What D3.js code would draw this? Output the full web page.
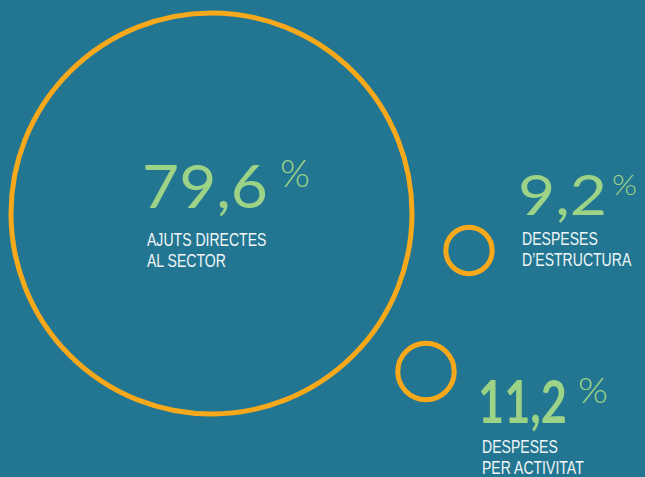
<html>
<head>
<meta charset="utf-8">
<title>Despeses</title>
<style type="text/css">
* { margin: 0; padding: 0; }
body { background: #237691; overflow: hidden; }
text.num { font-family: Lato, "Open Sans", sans-serif; fill: #9dd386; }
text.pct { font-family: Lato, "Open Sans", sans-serif; fill: #9dd386; font-weight: 300; }
text.lbl { font-family: "Liberation Sans", Arial, sans-serif; fill: #f1f6f8; font-size: 19px; }
</style>
<script src="https://cdn.jsdelivr.net/npm/d3@7"></script>
</head>
<body>
<div id="chart"></div>
<script type="text/javascript">
// shares of the budget (%)
var categories = ["AJUTS DIRECTES|AL SECTOR", "DESPESES|D\u2019ESTRUCTURA", "DESPESES|PER ACTIVITAT"];
var values = [79.6, 9.2, 11.2];
var valueLabels = ["79,6", "9,2", "11,2"];

// where each bubble and its text sit (tw = width of the number, pw = width of the %)
var layout = [
  { cx: 211.5, cy: 213.5, tx: 142, ty: 208, size: 60, weight: 400, tw: 126, px: 280, py: 187, psize: 37, pw: 30, lx: 147, ly: 246 },
  { cx: 469, cy: 250.5, tx: 518, ty: 215, size: 56, weight: 400, tw: 89, px: 612, py: 195, psize: 27, pw: 25, lx: 522, ly: 245 },
  { cx: 426, cy: 371.5, tx: 478, ty: 423, size: 60, weight: 700, tw: 89, px: 578, py: 403, psize: 35, pw: 30, lx: 482, ly: 453 }
];

var width = 645, height = 477;
var squeeze = 0.74; // condensed look for the labels

var svg = d3.select("#chart").append("svg")
  .attr("width", width)
  .attr("height", height);

var r = d3.scaleLinear().domain([0, 79.6]).range([0, 200.5]);

var items = values.map(function(v, i) {
  return { value: v, label: valueLabels[i], cat: categories[i].split("|"), pos: layout[i] };
});

svg.selectAll("circle.bubble")
  .data(items)
  .enter().append("circle")
  .attr("class", "bubble")
  .attr("cx", function(d) { return d.pos.cx; })
  .attr("cy", function(d) { return d.pos.cy; })
  .attr("r", function(d) { return r(d.value); })
  .attr("fill", "none")
  .attr("stroke", "#f7a81b")
  .attr("stroke-width", 5);

var g = svg.selectAll("g.lab")
  .data(items)
  .enter().append("g")
  .attr("class", "lab");

g.append("text")
  .attr("class", "num")
  .attr("x", function(d) { return d.pos.tx; })
  .attr("y", function(d) { return d.pos.ty; })
  .attr("textLength", function(d) { return d.pos.tw; })
  .attr("lengthAdjust", "spacingAndGlyphs")
  .style("font-size", function(d) { return d.pos.size + "px"; })
  .style("font-weight", function(d) { return d.pos.weight; })
  .text(function(d) { return d.label; });

g.append("text")
  .attr("class", "pct")
  .attr("x", function(d) { return d.pos.px; })
  .attr("y", function(d) { return d.pos.py; })
  .attr("textLength", function(d) { return d.pos.pw; })
  .attr("lengthAdjust", "spacingAndGlyphs")
  .style("font-size", function(d) { return d.pos.psize + "px"; })
  .text("%");

g.each(function(d) {
  var el = d3.select(this).append("g")
    .attr("transform", "translate(" + d.pos.lx + "," + d.pos.ly + ") scale(" + squeeze + ",1)");
  d.cat.forEach(function(line, i) {
    el.append("text")
      .attr("class", "lbl")
      .attr("x", 0)
      .attr("y", i * 21)
      .text(line);
  });
});
</script>
</body>
</html>
